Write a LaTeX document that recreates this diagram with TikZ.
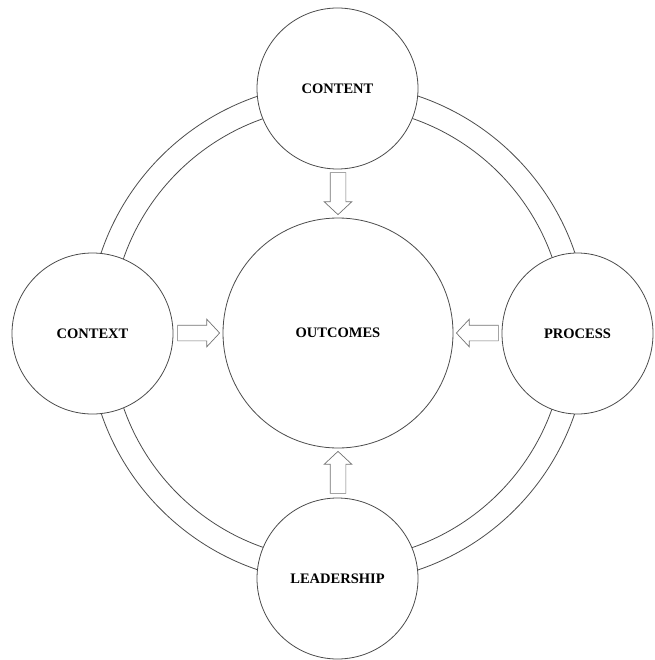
\documentclass[tikz,border=0pt]{standalone}
\usepackage{fontspec}
\setmainfont{Liberation Serif}
\usetikzlibrary{shapes,arrows,positioning,calc}

\begin{document}
\begin{tikzpicture}[
    x=1pt, y=-1pt,
    ring/.style={draw=black!70, line width=0.8pt},
    pillar/.style={draw=black!70, fill=white, circle, line width=0.8pt, minimum size=161pt, inner sep=0pt, font=\fontsize{14.5}{17}\selectfont\bfseries},
    flowarrow/.style={draw=black!55, fill=white, single arrow, line width=0.7pt, inner sep=7.5pt, minimum height=42pt, single arrow head extend=6pt, single arrow tip angle=94}
]
    \useasboundingbox (0,0) rectangle (654,660);

    % centre and the double ring joining the four pillars
    \node[pillar, minimum size=230pt] (outcomes) at (338,333) {OUTCOMES};
    \draw[ring] (outcomes.center) circle[radius=250pt];
    \draw[ring] (outcomes.center) circle[radius=227pt];

    \node[pillar] (content) at (337.5,88.5) {CONTENT};
    \node[pillar] (context) at (92.5,333.5) {CONTEXT};
    \node[pillar, ellipse, minimum width=151pt, minimum height=161pt] (process) at (577.5,333.5) {PROCESS};
    \node[pillar] (leadership) at (337.5,578.5) {LEADERSHIP};

    % block arrows into the centre
    \node[flowarrow, shape border rotate=270, anchor=tip] (a-content) at ($(outcomes.north)+(0,-2.5)$) {};
    \node[flowarrow, shape border rotate=0, anchor=tip] (a-context) at ($(outcomes.west)+(-2.5,0)$) {};
    \node[flowarrow, shape border rotate=180, anchor=tip] (a-process) at ($(outcomes.east)+(2.5,0)$) {};
    \node[flowarrow, shape border rotate=90, anchor=tip] (a-leadership) at ($(outcomes.south)+(0,2.5)$) {};
\end{tikzpicture}
\end{document}
